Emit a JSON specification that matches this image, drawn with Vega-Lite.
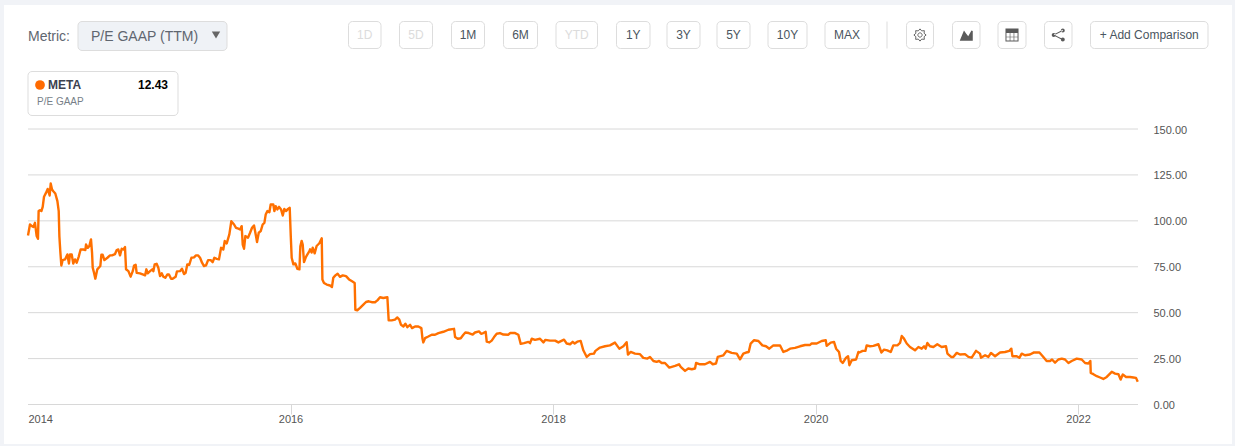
{"$schema":"https://vega.github.io/schema/vega-lite/v6.json","width":1235,"height":446,"autosize":{"type":"none"},"padding":0,"background":"#f1f3f7","config":{"view":{"stroke":null},"font":"Liberation Sans","text":{"font":"Liberation Sans"}},
"datasets":{
"series":[{"year":2014,"pe":92.0},{"year":2014.015,"pe":98.0},{"year":2014.03,"pe":97.1},{"year":2014.041,"pe":96.7},{"year":2014.053,"pe":98.9},{"year":2014.066,"pe":91.7},{"year":2014.076,"pe":90.2},{"year":2014.081,"pe":105.3},{"year":2014.091,"pe":105.8},{"year":2014.102,"pe":105.3},{"year":2014.112,"pe":107.6},{"year":2014.122,"pe":113.1},{"year":2014.137,"pe":115.2},{"year":2014.15,"pe":117.4},{"year":2014.165,"pe":113.8},{"year":2014.173,"pe":120.3},{"year":2014.183,"pe":117.0},{"year":2014.193,"pe":116.1},{"year":2014.208,"pe":114.9},{"year":2014.224,"pe":110.7},{"year":2014.234,"pe":105.3},{"year":2014.239,"pe":91.7},{"year":2014.246,"pe":83.5},{"year":2014.254,"pe":75.7},{"year":2014.264,"pe":78.6},{"year":2014.282,"pe":79.0},{"year":2014.3,"pe":81.7},{"year":2014.312,"pe":76.8},{"year":2014.32,"pe":81.7},{"year":2014.333,"pe":81.7},{"year":2014.345,"pe":76.8},{"year":2014.358,"pe":79.0},{"year":2014.371,"pe":77.2},{"year":2014.386,"pe":80.4},{"year":2014.401,"pe":84.4},{"year":2014.422,"pe":84.4},{"year":2014.437,"pe":84.1},{"year":2014.442,"pe":87.1},{"year":2014.455,"pe":85.3},{"year":2014.467,"pe":86.2},{"year":2014.48,"pe":89.9},{"year":2014.488,"pe":82.6},{"year":2014.493,"pe":74.5},{"year":2014.503,"pe":71.7},{"year":2014.513,"pe":68.5},{"year":2014.528,"pe":73.6},{"year":2014.551,"pe":75.4},{"year":2014.559,"pe":81.5},{"year":2014.569,"pe":81.5},{"year":2014.582,"pe":78.6},{"year":2014.605,"pe":79.9},{"year":2014.625,"pe":81.2},{"year":2014.64,"pe":81.2},{"year":2014.663,"pe":81.9},{"year":2014.676,"pe":84.1},{"year":2014.688,"pe":84.4},{"year":2014.701,"pe":81.2},{"year":2014.714,"pe":84.8},{"year":2014.726,"pe":84.4},{"year":2014.739,"pe":85.7},{"year":2014.747,"pe":73.6},{"year":2014.765,"pe":72.6},{"year":2014.782,"pe":69.6},{"year":2014.798,"pe":72.6},{"year":2014.808,"pe":75.7},{"year":2014.82,"pe":76.1},{"year":2014.828,"pe":71.7},{"year":2014.853,"pe":71.4},{"year":2014.879,"pe":70.7},{"year":2014.892,"pe":70.3},{"year":2014.902,"pe":73.6},{"year":2014.912,"pe":71.4},{"year":2014.93,"pe":72.6},{"year":2014.947,"pe":73.6},{"year":2014.955,"pe":72.6},{"year":2014.965,"pe":76.3},{"year":2014.98,"pe":76.6},{"year":2014.993,"pe":74.5},{"year":2015.006,"pe":69.9},{"year":2015.019,"pe":71.4},{"year":2015.031,"pe":69.6},{"year":2015.046,"pe":69.0},{"year":2015.062,"pe":70.8},{"year":2015.074,"pe":70.8},{"year":2015.09,"pe":68.5},{"year":2015.102,"pe":68.5},{"year":2015.125,"pe":69.6},{"year":2015.135,"pe":72.5},{"year":2015.158,"pe":72.6},{"year":2015.173,"pe":73.9},{"year":2015.189,"pe":71.0},{"year":2015.201,"pe":71.7},{"year":2015.214,"pe":76.3},{"year":2015.229,"pe":76.1},{"year":2015.245,"pe":79.9},{"year":2015.265,"pe":80.1},{"year":2015.28,"pe":81.2},{"year":2015.295,"pe":81.2},{"year":2015.311,"pe":79.9},{"year":2015.326,"pe":77.2},{"year":2015.341,"pe":75.4},{"year":2015.356,"pe":75.7},{"year":2015.372,"pe":78.6},{"year":2015.392,"pe":78.6},{"year":2015.407,"pe":77.5},{"year":2015.42,"pe":79.9},{"year":2015.438,"pe":79.3},{"year":2015.455,"pe":79.0},{"year":2015.471,"pe":85.3},{"year":2015.488,"pe":84.4},{"year":2015.499,"pe":89.0},{"year":2015.514,"pe":87.7},{"year":2015.534,"pe":92.6},{"year":2015.549,"pe":99.8},{"year":2015.57,"pe":98.0},{"year":2015.585,"pe":96.2},{"year":2015.603,"pe":95.7},{"year":2015.615,"pe":95.3},{"year":2015.628,"pe":97.1},{"year":2015.636,"pe":87.1},{"year":2015.646,"pe":84.8},{"year":2015.656,"pe":91.7},{"year":2015.676,"pe":90.8},{"year":2015.692,"pe":93.5},{"year":2015.707,"pe":96.2},{"year":2015.722,"pe":97.5},{"year":2015.737,"pe":91.7},{"year":2015.745,"pe":88.4},{"year":2015.758,"pe":93.5},{"year":2015.773,"pe":94.4},{"year":2015.788,"pe":98.0},{"year":2015.801,"pe":98.9},{"year":2015.811,"pe":103.4},{"year":2015.824,"pe":105.3},{"year":2015.839,"pe":104.7},{"year":2015.849,"pe":108.9},{"year":2015.869,"pe":108.9},{"year":2015.877,"pe":105.3},{"year":2015.887,"pe":108.0},{"year":2015.9,"pe":106.2},{"year":2015.913,"pe":107.6},{"year":2015.928,"pe":106.2},{"year":2015.941,"pe":102.9},{"year":2015.953,"pe":106.5},{"year":2015.966,"pe":105.3},{"year":2015.981,"pe":106.5},{"year":2015.994,"pe":107.1},{"year":2016.002,"pe":91.7},{"year":2016.009,"pe":79.9},{"year":2016.022,"pe":76.3},{"year":2016.037,"pe":76.8},{"year":2016.052,"pe":73.9},{"year":2016.068,"pe":73.6},{"year":2016.075,"pe":86.2},{"year":2016.085,"pe":89.1},{"year":2016.093,"pe":87.1},{"year":2016.103,"pe":77.5},{"year":2016.118,"pe":80.4},{"year":2016.129,"pe":81.7},{"year":2016.144,"pe":83.5},{"year":2016.149,"pe":84.5},{"year":2016.161,"pe":82.7},{"year":2016.169,"pe":85.4},{"year":2016.184,"pe":82.3},{"year":2016.199,"pe":86.3},{"year":2016.22,"pe":87.8},{"year":2016.238,"pe":90.5},{"year":2016.243,"pe":68.1},{"year":2016.255,"pe":66.2},{"year":2016.276,"pe":65.3},{"year":2016.301,"pe":64.8},{"year":2016.316,"pe":64.0},{"year":2016.326,"pe":69.0},{"year":2016.342,"pe":70.3},{"year":2016.359,"pe":71.2},{"year":2016.377,"pe":69.5},{"year":2016.398,"pe":70.3},{"year":2016.423,"pe":69.9},{"year":2016.446,"pe":68.1},{"year":2016.466,"pe":67.2},{"year":2016.489,"pe":66.2},{"year":2016.494,"pe":51.6},{"year":2016.509,"pe":51.3},{"year":2016.53,"pe":52.6},{"year":2016.555,"pe":54.4},{"year":2016.575,"pe":55.8},{"year":2016.596,"pe":56.2},{"year":2016.619,"pe":55.7},{"year":2016.644,"pe":55.7},{"year":2016.662,"pe":56.7},{"year":2016.682,"pe":58.4},{"year":2016.707,"pe":58.0},{"year":2016.738,"pe":58.4},{"year":2016.748,"pe":45.8},{"year":2016.771,"pe":45.8},{"year":2016.796,"pe":46.2},{"year":2016.814,"pe":47.4},{"year":2016.829,"pe":46.2},{"year":2016.842,"pe":43.4},{"year":2016.86,"pe":42.5},{"year":2016.875,"pe":44.0},{"year":2016.89,"pe":42.1},{"year":2016.911,"pe":43.4},{"year":2016.926,"pe":41.6},{"year":2016.949,"pe":42.5},{"year":2016.974,"pe":42.5},{"year":2016.997,"pe":41.6},{"year":2017.005,"pe":36.1},{"year":2017.012,"pe":33.8},{"year":2017.025,"pe":36.1},{"year":2017.05,"pe":37.0},{"year":2017.076,"pe":38.0},{"year":2017.101,"pe":38.0},{"year":2017.127,"pe":38.9},{"year":2017.165,"pe":39.6},{"year":2017.203,"pe":40.7},{"year":2017.246,"pe":41.2},{"year":2017.254,"pe":36.7},{"year":2017.274,"pe":35.8},{"year":2017.297,"pe":36.1},{"year":2017.317,"pe":38.0},{"year":2017.332,"pe":39.2},{"year":2017.358,"pe":38.9},{"year":2017.388,"pe":38.1},{"year":2017.406,"pe":39.2},{"year":2017.436,"pe":39.8},{"year":2017.452,"pe":38.5},{"year":2017.469,"pe":38.9},{"year":2017.487,"pe":39.6},{"year":2017.495,"pe":34.3},{"year":2017.515,"pe":33.8},{"year":2017.533,"pe":34.8},{"year":2017.551,"pe":36.7},{"year":2017.571,"pe":38.5},{"year":2017.596,"pe":38.9},{"year":2017.622,"pe":38.1},{"year":2017.66,"pe":38.0},{"year":2017.673,"pe":38.9},{"year":2017.711,"pe":38.9},{"year":2017.736,"pe":38.0},{"year":2017.754,"pe":33.0},{"year":2017.779,"pe":33.4},{"year":2017.812,"pe":34.1},{"year":2017.825,"pe":33.4},{"year":2017.838,"pe":35.8},{"year":2017.863,"pe":35.2},{"year":2017.901,"pe":35.8},{"year":2017.927,"pe":33.8},{"year":2017.942,"pe":35.2},{"year":2017.977,"pe":34.8},{"year":2018.016,"pe":34.8},{"year":2018.041,"pe":33.8},{"year":2018.084,"pe":35.3},{"year":2018.104,"pe":33.2},{"year":2018.13,"pe":32.8},{"year":2018.15,"pe":34.1},{"year":2018.165,"pe":33.2},{"year":2018.185,"pe":34.2},{"year":2018.211,"pe":34.6},{"year":2018.231,"pe":29.5},{"year":2018.257,"pe":25.9},{"year":2018.282,"pe":27.4},{"year":2018.312,"pe":27.7},{"year":2018.323,"pe":29.2},{"year":2018.358,"pe":31.0},{"year":2018.396,"pe":31.7},{"year":2018.434,"pe":32.2},{"year":2018.472,"pe":33.7},{"year":2018.505,"pe":30.4},{"year":2018.536,"pe":31.7},{"year":2018.561,"pe":33.9},{"year":2018.571,"pe":27.2},{"year":2018.592,"pe":28.6},{"year":2018.625,"pe":27.7},{"year":2018.663,"pe":27.4},{"year":2018.688,"pe":25.4},{"year":2018.719,"pe":25.0},{"year":2018.739,"pe":25.9},{"year":2018.765,"pe":23.7},{"year":2018.79,"pe":23.2},{"year":2018.808,"pe":23.7},{"year":2018.828,"pe":22.6},{"year":2018.853,"pe":22.6},{"year":2018.886,"pe":20.1},{"year":2018.93,"pe":21.0},{"year":2018.96,"pe":21.9},{"year":2018.973,"pe":20.5},{"year":2019.006,"pe":18.3},{"year":2019.031,"pe":19.6},{"year":2019.057,"pe":19.2},{"year":2019.082,"pe":19.6},{"year":2019.09,"pe":22.6},{"year":2019.12,"pe":21.9},{"year":2019.158,"pe":21.9},{"year":2019.196,"pe":23.2},{"year":2019.217,"pe":21.9},{"year":2019.242,"pe":22.3},{"year":2019.255,"pe":25.9},{"year":2019.298,"pe":26.8},{"year":2019.323,"pe":29.2},{"year":2019.361,"pe":28.1},{"year":2019.4,"pe":27.7},{"year":2019.425,"pe":24.6},{"year":2019.45,"pe":27.7},{"year":2019.471,"pe":28.3},{"year":2019.491,"pe":28.6},{"year":2019.506,"pe":33.2},{"year":2019.532,"pe":35.0},{"year":2019.565,"pe":34.6},{"year":2019.595,"pe":32.2},{"year":2019.623,"pe":31.7},{"year":2019.648,"pe":30.4},{"year":2019.679,"pe":32.2},{"year":2019.73,"pe":32.1},{"year":2019.755,"pe":28.6},{"year":2019.786,"pe":29.5},{"year":2019.806,"pe":30.4},{"year":2019.844,"pe":30.8},{"year":2019.882,"pe":31.7},{"year":2019.92,"pe":32.4},{"year":2019.958,"pe":32.4},{"year":2019.971,"pe":33.3},{"year":2020.009,"pe":33.2},{"year":2020.047,"pe":34.6},{"year":2020.078,"pe":35.0},{"year":2020.085,"pe":31.9},{"year":2020.116,"pe":33.7},{"year":2020.141,"pe":34.1},{"year":2020.157,"pe":30.4},{"year":2020.179,"pe":28.6},{"year":2020.192,"pe":23.7},{"year":2020.207,"pe":22.6},{"year":2020.233,"pe":25.5},{"year":2020.248,"pe":26.3},{"year":2020.258,"pe":21.4},{"year":2020.276,"pe":24.1},{"year":2020.309,"pe":24.5},{"year":2020.327,"pe":28.6},{"year":2020.334,"pe":28.3},{"year":2020.359,"pe":29.2},{"year":2020.38,"pe":29.2},{"year":2020.39,"pe":32.2},{"year":2020.415,"pe":31.7},{"year":2020.441,"pe":31.9},{"year":2020.479,"pe":32.8},{"year":2020.502,"pe":28.3},{"year":2020.522,"pe":29.9},{"year":2020.547,"pe":29.5},{"year":2020.573,"pe":28.6},{"year":2020.593,"pe":32.2},{"year":2020.624,"pe":32.2},{"year":2020.644,"pe":33.5},{"year":2020.657,"pe":37.3},{"year":2020.674,"pe":35.9},{"year":2020.695,"pe":33.2},{"year":2020.72,"pe":31.3},{"year":2020.758,"pe":29.5},{"year":2020.784,"pe":31.3},{"year":2020.809,"pe":30.4},{"year":2020.827,"pe":31.7},{"year":2020.839,"pe":30.4},{"year":2020.852,"pe":33.5},{"year":2020.872,"pe":31.7},{"year":2020.898,"pe":31.3},{"year":2020.928,"pe":32.8},{"year":2020.961,"pe":31.3},{"year":2020.994,"pe":31.7},{"year":2021.005,"pe":27.7},{"year":2021.033,"pe":25.9},{"year":2021.05,"pe":25.9},{"year":2021.076,"pe":28.1},{"year":2021.101,"pe":27.2},{"year":2021.139,"pe":27.4},{"year":2021.165,"pe":25.9},{"year":2021.19,"pe":25.5},{"year":2021.223,"pe":29.2},{"year":2021.253,"pe":27.7},{"year":2021.261,"pe":25.5},{"year":2021.292,"pe":26.8},{"year":2021.317,"pe":25.9},{"year":2021.337,"pe":28.1},{"year":2021.368,"pe":26.3},{"year":2021.406,"pe":28.3},{"year":2021.444,"pe":28.6},{"year":2021.477,"pe":29.2},{"year":2021.492,"pe":30.4},{"year":2021.5,"pe":26.3},{"year":2021.533,"pe":26.3},{"year":2021.553,"pe":25.4},{"year":2021.571,"pe":27.7},{"year":2021.596,"pe":26.8},{"year":2021.634,"pe":27.2},{"year":2021.665,"pe":28.4},{"year":2021.706,"pe":28.3},{"year":2021.731,"pe":26.3},{"year":2021.761,"pe":23.7},{"year":2021.787,"pe":23.7},{"year":2021.802,"pe":24.5},{"year":2021.825,"pe":22.8},{"year":2021.85,"pe":24.5},{"year":2021.876,"pe":25.0},{"year":2021.901,"pe":24.5},{"year":2021.927,"pe":22.6},{"year":2021.952,"pe":23.7},{"year":2021.99,"pe":25.0},{"year":2022.028,"pe":24.5},{"year":2022.054,"pe":22.6},{"year":2022.079,"pe":22.3},{"year":2022.094,"pe":23.7},{"year":2022.097,"pe":17.2},{"year":2022.117,"pe":16.5},{"year":2022.143,"pe":15.4},{"year":2022.168,"pe":14.7},{"year":2022.193,"pe":13.9},{"year":2022.219,"pe":15.0},{"year":2022.257,"pe":17.8},{"year":2022.282,"pe":16.8},{"year":2022.308,"pe":16.5},{"year":2022.325,"pe":13.6},{"year":2022.341,"pe":16.3},{"year":2022.366,"pe":15.0},{"year":2022.396,"pe":15.0},{"year":2022.422,"pe":14.7},{"year":2022.442,"pe":14.5},{"year":2022.455,"pe":12.43}]
},
"resolve":{"scale":{"x":"independent","y":"independent"},"axis":{"x":"independent","y":"independent"}},
"layer":[
{"layer":[
{"data":{"values":[{"item":"panel","fromSlot":0,"toSlot":42,"topSlot":0,"bottomSlot":9}]},"mark":{"type":"rect","fill":"#ffffff"},"encoding":{
"x":{"field":"fromSlot","type":"quantitative","axis":null,"scale":{"type":"linear","nice":false,"zero":false,"domain":[0,1,2,3,4,5,6,7,8,9,10,11,12,13,14,15,16,17,18,19,20,21,22,23,24,25,26,27,28,29,30,31,32,33,34,35,36,37,38,39,40,41,42],"range":[4,28,37,40,48,78,91,168,178,216,227,348.5,381,399.5,432.5,451.5,484.5,503.5,537.5,556,597.5,616.5,650,667,700,717,750,768,807,825,869,887,906.5,933.5,952.5,980,998,1026,1044.5,1072,1090.5,1208,1232]}},
"x2":{"field":"toSlot"},
"y":{"field":"topSlot","type":"quantitative","axis":null,"scale":{"type":"linear","nice":false,"zero":false,"domain":[0,1,2,3,4,5,6,7,8,9],"range":[5,21.5,35,48.5,50.5,71.5,85,101,115.5,444]}},
"y2":{"field":"bottomSlot"}}},
{"data":{"values":[
{"item":"dropdown","kind":"select","fromSlot":5,"toSlot":10,"topSlot":1,"bottomSlot":4},
{"item":"legend","kind":"plain","fromSlot":1,"toSlot":8,"topSlot":5,"bottomSlot":8},
{"item":"1D","kind":"plain","fromSlot":11,"toSlot":12,"topSlot":1,"bottomSlot":3},
{"item":"5D","kind":"plain","fromSlot":13,"toSlot":14,"topSlot":1,"bottomSlot":3},
{"item":"1M","kind":"plain","fromSlot":15,"toSlot":16,"topSlot":1,"bottomSlot":3},
{"item":"6M","kind":"plain","fromSlot":17,"toSlot":18,"topSlot":1,"bottomSlot":3},
{"item":"YTD","kind":"plain","fromSlot":19,"toSlot":20,"topSlot":1,"bottomSlot":3},
{"item":"1Y","kind":"plain","fromSlot":21,"toSlot":22,"topSlot":1,"bottomSlot":3},
{"item":"3Y","kind":"plain","fromSlot":23,"toSlot":24,"topSlot":1,"bottomSlot":3},
{"item":"5Y","kind":"plain","fromSlot":25,"toSlot":26,"topSlot":1,"bottomSlot":3},
{"item":"10Y","kind":"plain","fromSlot":27,"toSlot":28,"topSlot":1,"bottomSlot":3},
{"item":"MAX","kind":"plain","fromSlot":29,"toSlot":30,"topSlot":1,"bottomSlot":3},
{"item":"settings","kind":"plain","fromSlot":32,"toSlot":33,"topSlot":1,"bottomSlot":3},
{"item":"chart type","kind":"plain","fromSlot":34,"toSlot":35,"topSlot":1,"bottomSlot":3},
{"item":"table","kind":"plain","fromSlot":36,"toSlot":37,"topSlot":1,"bottomSlot":3},
{"item":"share","kind":"plain","fromSlot":38,"toSlot":39,"topSlot":1,"bottomSlot":3},
{"item":"+ Add Comparison","kind":"plain","fromSlot":40,"toSlot":41,"topSlot":1,"bottomSlot":3}
]},"mark":{"type":"rect","stroke":"#dddddd","strokeWidth":1,"cornerRadius":4},"encoding":{
"x":{"field":"fromSlot","type":"quantitative","axis":null},"x2":{"field":"toSlot"},
"y":{"field":"topSlot","type":"quantitative","axis":null},"y2":{"field":"bottomSlot"},
"fill":{"field":"kind","type":"nominal","legend":null,"scale":{"domain":["select","plain"],"range":["#eff2f6","#ffffff"]}}}},
{"data":{"values":[{"item":"separator","slot":31,"topSlot":1,"bottomSlot":3}]},"mark":{"type":"rule","stroke":"#dddddd","strokeWidth":1},"encoding":{
"x":{"field":"slot","type":"quantitative","axis":null},
"y":{"field":"topSlot","type":"quantitative","axis":null},"y2":{"field":"bottomSlot"}}},
{"data":{"values":[
{"label":"1D","kind":"off","slot":11.5},{"label":"5D","kind":"off","slot":13.5},{"label":"1M","kind":"on","slot":15.5},{"label":"6M","kind":"on","slot":17.5},{"label":"YTD","kind":"off","slot":19.5},{"label":"1Y","kind":"on","slot":21.5},{"label":"3Y","kind":"on","slot":23.5},{"label":"5Y","kind":"on","slot":25.5},{"label":"10Y","kind":"on","slot":27.5},{"label":"MAX","kind":"on","slot":29.5},{"label":"+ Add Comparison","kind":"on","slot":40.5}
]},"mark":{"type":"text","font":"Liberation Sans","fontSize":12,"align":"center","baseline":"middle"},"encoding":{
"x":{"field":"slot","type":"quantitative","axis":null},
"y":{"datum":2,"type":"quantitative","axis":null},
"text":{"field":"label"},
"color":{"field":"kind","type":"nominal","legend":null,"scale":{"domain":["off","on"],"range":["#dcdcdc","#4a5560"]}}}},
{"data":{"values":[{"label":"Metric:","slot":1},{"label":"P/E GAAP (TTM)","slot":6}]},"mark":{"type":"text","font":"Liberation Sans","fontSize":14,"align":"left","baseline":"middle","fill":"#5f6670"},"encoding":{
"x":{"field":"slot","type":"quantitative","axis":null},
"y":{"datum":2.12,"type":"quantitative","axis":null},
"text":{"field":"label"}}},
{"data":{"values":[{"label":"META","slot":4}]},"mark":{"type":"text","font":"Liberation Sans","fontSize":12,"fontWeight":"bold","align":"left","baseline":"middle","fill":"#3c4150"},"encoding":{
"x":{"field":"slot","type":"quantitative","axis":null},
"y":{"datum":6,"type":"quantitative","axis":null},
"text":{"field":"label"}}},
{"data":{"values":[{"label":"12.43","slot":7}]},"mark":{"type":"text","font":"Liberation Sans","fontSize":12,"fontWeight":"bold","align":"right","baseline":"middle","fill":"#000000"},"encoding":{
"x":{"field":"slot","type":"quantitative","axis":null},
"y":{"datum":6,"type":"quantitative","axis":null},
"text":{"field":"label"}}},
{"data":{"values":[{"label":"P/E GAAP","slot":2}]},"mark":{"type":"text","font":"Liberation Sans","fontSize":10,"align":"left","baseline":"middle","fill":"#777f88"},"encoding":{
"x":{"field":"slot","type":"quantitative","axis":null},
"y":{"datum":7.07,"type":"quantitative","axis":null},
"text":{"field":"label"}}},
{"data":{"values":[{"item":"META marker","slot":3}]},"mark":{"type":"point","shape":"circle","filled":true,"size":95,"opacity":1,"fill":"#ff6a00"},"encoding":{
"x":{"field":"slot","type":"quantitative","axis":null},
"y":{"datum":6,"type":"quantitative","axis":null}}},
{"data":{"values":[{"item":"dropdown arrow","slot":9}]},"mark":{"type":"point","shape":"triangle-down","filled":true,"size":70,"opacity":1,"fill":"#666666"},"encoding":{
"x":{"field":"slot","type":"quantitative","axis":null},
"y":{"datum":2,"type":"quantitative","axis":null}}},
{"data":{"values":[{"icon":"settings","slot":32.5}]},"mark":{"type":"point","filled":false,"size":150,"opacity":1,"stroke":"#666666","strokeWidth":1,"shape":"M1,0L.67,.28L.71,.71L.28,.67L0,1L-.28,.67L-.71,.71L-.67,.28L-1,0L-.67,-.28L-.71,-.71L-.28,-.67L0,-1L.28,-.67L.71,-.71L.67,-.28ZM.35,0a.35,.35 0 1,1 -.7,0a.35,.35 0 1,1 .7,0Z"},"encoding":{
"x":{"field":"slot","type":"quantitative","axis":null},
"y":{"datum":2,"type":"quantitative","axis":null}}},
{"data":{"values":[{"icon":"chart type","slot":34.5},{"icon":"table","slot":36.5},{"icon":"share","slot":38.5}]},"mark":{"type":"point","filled":true,"size":170,"opacity":1,"fill":"#5a5a5a"},"encoding":{
"x":{"field":"slot","type":"quantitative","axis":null},
"y":{"datum":2,"type":"quantitative","axis":null},
"shape":{"field":"icon","type":"nominal","legend":null,"scale":{"domain":["chart type","table","share"],"range":["M-1,.9L-.35,-.7L0,-.2L.3,.2L.8,-.7L1,-.6L1,.9Z","M-1,-1H1V1H-1ZM-.85,-.3V.25H-.35V-.3ZM-.25,-.3V.25H.25V-.3ZM.35,-.3V.25H.85V-.3ZM-.85,.35V.85H-.35V.35ZM-.25,.35V.85H.25V.35ZM.35,.35V.85H.85V.35Z","M-1,0a.3,.3 0 1,0 .6,0a.3,.3 0 1,0 -.6,0ZM.4,-.7a.3,.3 0 1,0 .6,0a.3,.3 0 1,0 -.6,0ZM.4,.7a.3,.3 0 1,0 .6,0a.3,.3 0 1,0 -.6,0ZM-.7,-.09L.7,-.79L.7,-.61L-.7,.09ZM-.7,-.09L-.7,.09L.7,.79L.7,.61Z"]}}}}
]},
{"data":{"values":[{"pe":0},{"pe":25},{"pe":50},{"pe":75},{"pe":100},{"pe":125},{"pe":150}]},"mark":{"type":"rule","stroke":"#d8d8d8","strokeWidth":1},"encoding":{
"y":{"field":"pe","type":"quantitative","axis":null,"scale":{"type":"linear","nice":false,"zero":false,"domain":[0,150],"range":[404.5,129]}},
"x":{"datum":2014,"type":"quantitative","axis":null,"scale":{"type":"linear","nice":false,"zero":false,"domain":[2014,2022.457],"range":[28,1138]}},
"x2":{"datum":2022.457}}},
{"data":{"name":"series"},"mark":{"type":"line","stroke":"#ff7000","strokeWidth":2.4,"strokeJoin":"round","interpolate":"linear","clip":false},"encoding":{
"x":{"field":"year","type":"quantitative","scale":{"type":"linear","nice":false,"zero":false,"domain":[2014,2022.457],"range":[28,1138]},"axis":{"values":[2014,2016,2018,2020,2022],"format":"d","title":null,"grid":false,"domain":false,"ticks":true,"tickSize":10,"tickColor":"#d8d8d8","tickOpacity":{"condition":{"test":"datum.value === 2014","value":0},"value":1},"labelFlush":true,"labelFont":"Liberation Sans","labelFontSize":11,"labelColor":"#555555","labelPadding":-1,"offset":-42,"orient":"bottom","zindex":1}},
"y":{"field":"pe","type":"quantitative","scale":{"type":"linear","nice":false,"zero":false,"domain":[0,150],"range":[404.5,129]},"axis":{"values":[0,25,50,75,100,125,150],"format":".2f","title":null,"grid":false,"domain":false,"ticks":false,"labelFont":"Liberation Sans","labelFontSize":11,"labelColor":"#555555","labelPadding":15,"labelOffset":1,"offset":-97,"orient":"right","zindex":1}}}}
]}
